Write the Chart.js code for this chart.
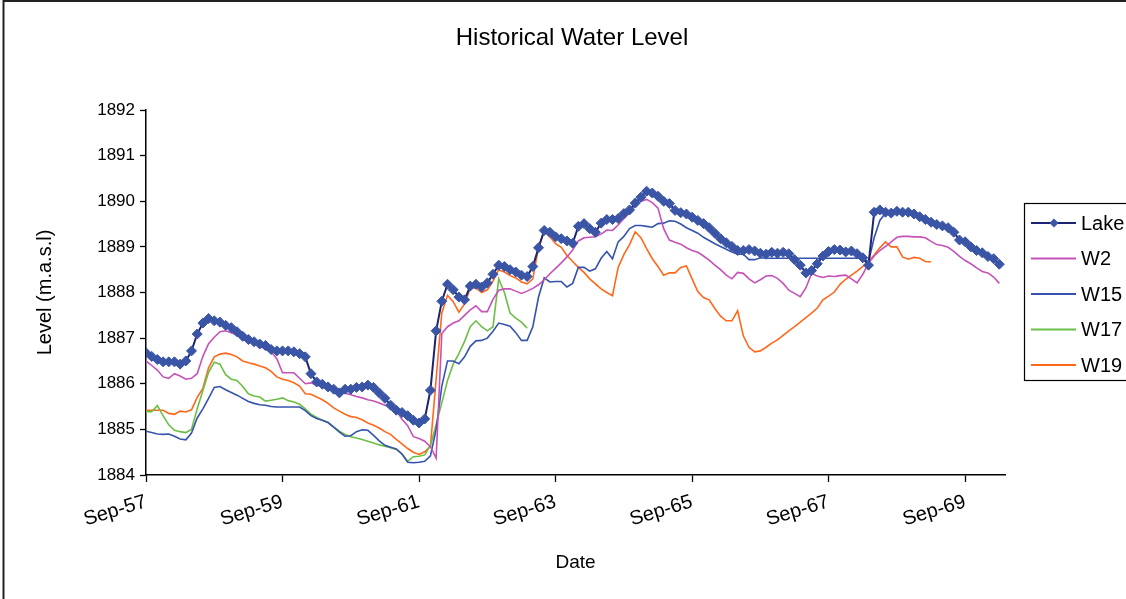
<!DOCTYPE html>
<html>
<head>
<meta charset="utf-8">
<script src="https://cdn.jsdelivr.net/npm/chart.js@4"></script>
<style>
    body { margin: 0; background: #fff; }
    #wrap { width: 1126px; height: 599px; }
</style>
</head>
<body>
<div id="wrap"><canvas id="waterChart" width="1126" height="599"></canvas></div>
<script>
    'use strict';

    var chartTitle = 'Historical Water Level';

    // x position = months since Sep-57
    var tickMonths = [0, 24, 48, 72, 96, 120, 144];
    var tickLabels = ['Sep-57', 'Sep-59', 'Sep-61', 'Sep-63', 'Sep-65', 'Sep-67', 'Sep-69'];

    var seriesNames = ['Lake', 'W2', 'W15', 'W17', 'W19'];
    var seriesColors = ['#1b2372', '#c651b8', '#3553ad', '#6cbf46', '#ff681a'];
    var lakeMarkerColor = '#3a55a6';

    var lakeLevel = [
        1886.68, 1886.60, 1886.53, 1886.48, 1886.48, 1886.48, 1886.43, 1886.50, 1886.72, 1887.09,
        1887.33, 1887.43, 1887.38, 1887.35, 1887.28, 1887.23, 1887.14, 1887.04, 1886.97, 1886.92,
        1886.87, 1886.84, 1886.75, 1886.72, 1886.72, 1886.72, 1886.70, 1886.66, 1886.59, 1886.22,
        1886.04, 1885.99, 1885.93, 1885.88, 1885.80, 1885.88, 1885.88, 1885.92, 1885.93, 1885.97,
        1885.92, 1885.80, 1885.68, 1885.53, 1885.42, 1885.37, 1885.30, 1885.20, 1885.14, 1885.23,
        1885.86, 1887.16, 1887.81, 1888.18, 1888.06, 1887.90, 1887.84, 1888.14, 1888.18, 1888.12,
        1888.21, 1888.40, 1888.60, 1888.57, 1888.50, 1888.45, 1888.38, 1888.35, 1888.57, 1888.98,
        1889.36, 1889.32, 1889.22, 1889.18, 1889.13, 1889.08, 1889.45, 1889.51, 1889.40, 1889.32,
        1889.52, 1889.60, 1889.60, 1889.62, 1889.73, 1889.81, 1889.96, 1890.09, 1890.22, 1890.18,
        1890.11, 1890.00, 1889.95, 1889.80, 1889.75, 1889.72, 1889.65, 1889.58, 1889.51, 1889.42,
        1889.30, 1889.18, 1889.09, 1889.01, 1888.92, 1888.92, 1888.94, 1888.91, 1888.86, 1888.84,
        1888.88, 1888.86, 1888.88, 1888.85, 1888.72, 1888.60, 1888.43, 1888.48, 1888.63, 1888.80,
        1888.90, 1888.94, 1888.93, 1888.89, 1888.91, 1888.85, 1888.76, 1888.60, 1889.76, 1889.81,
        1889.76, 1889.74, 1889.78, 1889.76, 1889.76, 1889.72, 1889.66, 1889.60, 1889.54, 1889.49,
        1889.46, 1889.42, 1889.32, 1889.15, 1889.11, 1889.00, 1888.92, 1888.87, 1888.79, 1888.74,
        1888.62
    ];

    var w2Level = [
        1886.50, 1886.40, 1886.30, 1886.15, 1886.12, 1886.22, 1886.17, 1886.10, 1886.12, 1886.22,
        1886.60, 1886.88, 1887.02, 1887.14, 1887.16, 1887.12, 1887.07, 1887.00, 1886.95, 1886.89,
        1886.83, 1886.75, 1886.70, 1886.55, 1886.24, 1886.24, 1886.24, 1886.12, 1886.00, 1886.02,
        1885.97, 1885.94, 1885.91, 1885.88, 1885.85, 1885.80, 1885.76, 1885.72, 1885.69, 1885.65,
        1885.62, 1885.58, 1885.53, 1885.49, 1885.42, 1885.22, 1885.08, 1884.84, 1884.80, 1884.74,
        1884.62, 1884.37, 1887.10, 1887.25, 1887.33, 1887.38, 1887.50, 1887.62, 1887.71, 1887.58,
        1887.58, 1887.85, 1888.05, 1888.08, 1888.08, 1888.03, 1887.98, 1888.03, 1888.09, 1888.17,
        1888.28, 1888.41, 1888.53, 1888.65, 1888.78, 1888.93, 1889.13, 1889.20, 1889.21, 1889.22,
        1889.28, 1889.37, 1889.36, 1889.48, 1889.62, 1889.75, 1889.90, 1890.00, 1890.04, 1889.97,
        1889.85, 1889.40, 1889.15, 1889.10, 1889.06, 1888.98, 1888.92, 1888.88, 1888.80, 1888.71,
        1888.60, 1888.50, 1888.38, 1888.30, 1888.44, 1888.42, 1888.30, 1888.21, 1888.28, 1888.36,
        1888.37, 1888.31, 1888.20, 1888.05, 1887.98, 1887.91, 1888.10, 1888.42, 1888.36, 1888.33,
        1888.36, 1888.35, 1888.37, 1888.38, 1888.30, 1888.21, 1888.40, 1888.64, 1888.80, 1888.92,
        1889.01, 1889.11, 1889.21, 1889.23, 1889.23, 1889.22, 1889.22, 1889.20, 1889.12, 1889.05,
        1889.03, 1888.99, 1888.90, 1888.79, 1888.70, 1888.63, 1888.54, 1888.46, 1888.43, 1888.34,
        1888.20
    ];

    var w15Level = [
        1884.96, 1884.93, 1884.90, 1884.89, 1884.90, 1884.85, 1884.79, 1884.77, 1884.92, 1885.25,
        1885.45, 1885.68, 1885.92, 1885.94, 1885.87, 1885.81, 1885.75, 1885.68, 1885.61, 1885.57,
        1885.54, 1885.53, 1885.50, 1885.49, 1885.49, 1885.49, 1885.49, 1885.49, 1885.41, 1885.30,
        1885.24, 1885.20, 1885.15, 1885.05, 1884.94, 1884.85, 1884.86, 1884.95, 1884.99, 1884.98,
        1884.87, 1884.75, 1884.65, 1884.61, 1884.57, 1884.46, 1884.28, 1884.27, 1884.28, 1884.30,
        1884.42, 1885.00, 1885.95, 1886.50, 1886.50, 1886.44, 1886.59, 1886.82, 1886.94, 1886.95,
        1887.00, 1887.15, 1887.33, 1887.30, 1887.26, 1887.12, 1886.95, 1886.95, 1887.25, 1887.90,
        1888.32, 1888.23, 1888.24, 1888.24, 1888.12, 1888.20, 1888.55, 1888.55, 1888.47, 1888.52,
        1888.75, 1888.90, 1888.74, 1889.11, 1889.23, 1889.40, 1889.47, 1889.47, 1889.45, 1889.43,
        1889.51, 1889.52, 1889.57, 1889.56, 1889.50, 1889.42, 1889.36, 1889.30, 1889.21, 1889.14,
        1889.07, 1889.01, 1888.95, 1888.89, 1888.84, 1888.84, 1888.72, 1888.72, 1888.76, 1888.75,
        1888.75, 1888.75, 1888.75, 1888.75, 1888.75, 1888.75, 1888.75, 1888.75, 1888.75, 1888.75,
        1888.75, 1888.75, 1888.75, 1888.75, 1888.75, 1888.75, 1888.75, 1888.67, 1889.20, 1889.58,
        1889.74, 1889.72, 1889.75, 1889.74, 1889.73, 1889.70, 1889.64, 1889.58, 1889.52, 1889.47,
        1889.44, 1889.40, 1889.30
    ];

    var w17Level = [
        1885.39, 1885.39, 1885.52, 1885.30, 1885.10, 1884.98, 1884.95, 1884.93, 1885.00, 1885.45,
        1885.85, 1886.25, 1886.47, 1886.43, 1886.20, 1886.10, 1886.07, 1885.94, 1885.78, 1885.73,
        1885.71, 1885.62, 1885.64, 1885.66, 1885.69, 1885.63, 1885.60, 1885.55, 1885.45, 1885.33,
        1885.26, 1885.20, 1885.15, 1885.05, 1884.96, 1884.89, 1884.84, 1884.81, 1884.78, 1884.74,
        1884.70, 1884.66, 1884.63, 1884.60, 1884.56, 1884.46, 1884.30, 1884.40, 1884.41, 1884.44,
        1884.65, 1885.10, 1885.58, 1886.07, 1886.43, 1886.66, 1886.93, 1887.25, 1887.38, 1887.25,
        1887.16, 1887.25, 1888.30, 1888.00, 1887.55, 1887.44, 1887.35, 1887.22
    ];

    var w19Level = [
        1885.42, 1885.42, 1885.42, 1885.42, 1885.35, 1885.33, 1885.40, 1885.38, 1885.43, 1885.70,
        1885.90, 1886.35, 1886.59, 1886.65, 1886.67, 1886.64, 1886.59, 1886.50, 1886.46, 1886.43,
        1886.39, 1886.35, 1886.27, 1886.15, 1886.10, 1886.07, 1886.02, 1885.95, 1885.78, 1885.77,
        1885.71, 1885.65, 1885.57, 1885.47, 1885.40, 1885.33, 1885.28, 1885.26, 1885.21, 1885.14,
        1885.09, 1885.03, 1884.95, 1884.89, 1884.78, 1884.68, 1884.58, 1884.50, 1884.45, 1884.51,
        1884.63, 1886.10, 1887.55, 1887.94, 1887.80, 1887.57, 1887.75, 1888.10, 1888.10, 1888.00,
        1888.06, 1888.25, 1888.50, 1888.45, 1888.37, 1888.32, 1888.23, 1888.19, 1888.30, 1889.00,
        1889.34, 1889.22, 1889.07, 1888.99, 1888.81, 1888.68, 1888.55, 1888.44, 1888.30, 1888.19,
        1888.08, 1888.00, 1887.93, 1888.55, 1888.83, 1889.05, 1889.33, 1889.20, 1888.96, 1888.74,
        1888.57, 1888.38, 1888.43, 1888.43, 1888.55, 1888.58, 1888.30, 1888.02, 1887.89, 1887.84,
        1887.65, 1887.48, 1887.38, 1887.38, 1887.60, 1887.05, 1886.80, 1886.70, 1886.72, 1886.80,
        1886.89, 1886.96, 1887.06, 1887.16, 1887.25, 1887.35, 1887.45, 1887.55, 1887.66, 1887.84,
        1887.92, 1888.01, 1888.18, 1888.29, 1888.38, 1888.47, 1888.57, 1888.68, 1888.82, 1888.98,
        1889.11, 1889.00, 1889.00, 1888.78, 1888.73, 1888.77, 1888.75, 1888.68, 1888.67
    ];

    var seriesValues = [lakeLevel, w2Level, w15Level, w17Level, w19Level];

    function toPoints(values) {
        return values.map(function (v, i) {
            return { x: i, y: v };
        });
    }

    var textColor = '#000';
    var fontFamily = '"Liberation Sans", Arial, sans-serif';

    var datasets = seriesNames.map(function (name, i) {
        var isLake = i === 0;
        return {
            label: name,
            data: toPoints(seriesValues[i]),
            borderColor: seriesColors[i],
            borderWidth: isLake ? 2 : 1.6,
            pointRadius: isLake ? 5 : 0,
            pointStyle: 'rectRot',
            pointBackgroundColor: lakeMarkerColor,
            pointBorderColor: lakeMarkerColor,
            pointBorderWidth: 1,
            tension: 0,
            fill: false
        };
    });

    // frame round the chart area and the title, centred on the whole canvas
    var framePlugin = {
        id: 'frame',
        beforeDraw: function (chart) {
            var ctx = chart.ctx;
            ctx.save();
            ctx.fillStyle = '#fff';
            ctx.fillRect(0, 0, chart.width, chart.height);
            ctx.strokeStyle = '#222';
            ctx.lineWidth = 2;
            ctx.beginPath();
            ctx.moveTo(3.5, chart.height);
            ctx.lineTo(3.5, 1);
            ctx.lineTo(chart.width, 1);
            ctx.stroke();
            ctx.fillStyle = textColor;
            ctx.font = '24px ' + fontFamily;
            ctx.textAlign = 'center';
            ctx.textBaseline = 'middle';
            ctx.fillText(chartTitle, 572, 38);
            ctx.restore();
        }
    };

    // boxed legend on the right, drawn from the datasets
    var boxLegendPlugin = {
        id: 'boxLegend',
        afterDraw: function (chart) {
            var ctx = chart.ctx;
            var left = 1024, top = 203, bottom = 380;
            var rowGap = 35.5, firstRow = 223;
            ctx.save();
            ctx.strokeStyle = '#000';
            ctx.lineWidth = 1.2;
            ctx.strokeRect(left + 0.5, top + 0.5, chart.width - left + 5, bottom - top);
            ctx.font = '20px ' + fontFamily;
            ctx.textBaseline = 'middle';
            ctx.fillStyle = textColor;
            chart.data.datasets.forEach(function (ds, i) {
                var y = firstRow + i * rowGap;
                ctx.strokeStyle = ds.borderColor;
                ctx.lineWidth = 2;
                ctx.beginPath();
                ctx.moveTo(1031, y);
                ctx.lineTo(1076, y);
                ctx.stroke();
                if (ds.pointRadius > 0) {
                    ctx.fillStyle = ds.pointBackgroundColor;
                    ctx.beginPath();
                    ctx.moveTo(1054, y - 4.5);
                    ctx.lineTo(1058.5, y);
                    ctx.lineTo(1054, y + 4.5);
                    ctx.lineTo(1049.5, y);
                    ctx.closePath();
                    ctx.fill();
                }
                ctx.fillStyle = textColor;
                ctx.fillText(ds.label, 1081, y + 1);
            });
            ctx.restore();
        }
    };

    var ctx = document.getElementById('waterChart').getContext('2d');
    window.waterChart = new Chart(ctx, {
        type: 'line',
        data: { datasets: datasets },
        plugins: [framePlugin, boxLegendPlugin],
        options: {
            responsive: false,
            animation: false,
            devicePixelRatio: 1,
            layout: {
                padding: { top: 110, right: 121, bottom: 24, left: 0 }
            },
            plugins: {
                legend: { display: false },
                tooltip: { enabled: false },
                title: { display: false }
            },
            scales: {
                x: {
                    type: 'linear',
                    min: 0,
                    max: 151,
                    afterBuildTicks: function (scale) {
                        scale.ticks = tickMonths.map(function (m) {
                            return { value: m };
                        });
                    },
                    afterFit: function (scale) {
                        scale.height = 100;
                    },
                    ticks: {
                        autoSkip: false,
                        minRotation: 17,
                        maxRotation: 17,
                        padding: 8,
                        color: textColor,
                        font: { family: fontFamily, size: 20 },
                        callback: function (value, index) {
                            return tickLabels[index];
                        }
                    },
                    grid: {
                        drawOnChartArea: false,
                        drawTicks: true,
                        tickLength: 7,
                        tickColor: '#000',
                        tickWidth: 1.3
                    },
                    border: { color: '#000', width: 1.5 },
                    title: {
                        display: true,
                        text: 'Date',
                        color: textColor,
                        font: { family: fontFamily, size: 19 },
                        padding: { top: 0, bottom: 1 }
                    }
                },
                y: {
                    min: 1884,
                    max: 1892,
                    afterFit: function (scale) {
                        scale.width = 146;
                    },
                    ticks: {
                        stepSize: 1,
                        padding: 5,
                        color: textColor,
                        font: { family: fontFamily, size: 17 },
                        callback: function (value) {
                            return String(value);
                        }
                    },
                    grid: {
                        drawOnChartArea: false,
                        drawTicks: true,
                        tickLength: 6,
                        tickColor: '#000',
                        tickWidth: 1.3
                    },
                    border: { color: '#000', width: 1.5 },
                    title: {
                        display: true,
                        text: 'Level (m.a.s.l)',
                        color: textColor,
                        font: { family: fontFamily, size: 20 },
                        padding: { top: 33, bottom: 0 }
                    }
                }
            }
        }
    });
</script>
</body>
</html>
